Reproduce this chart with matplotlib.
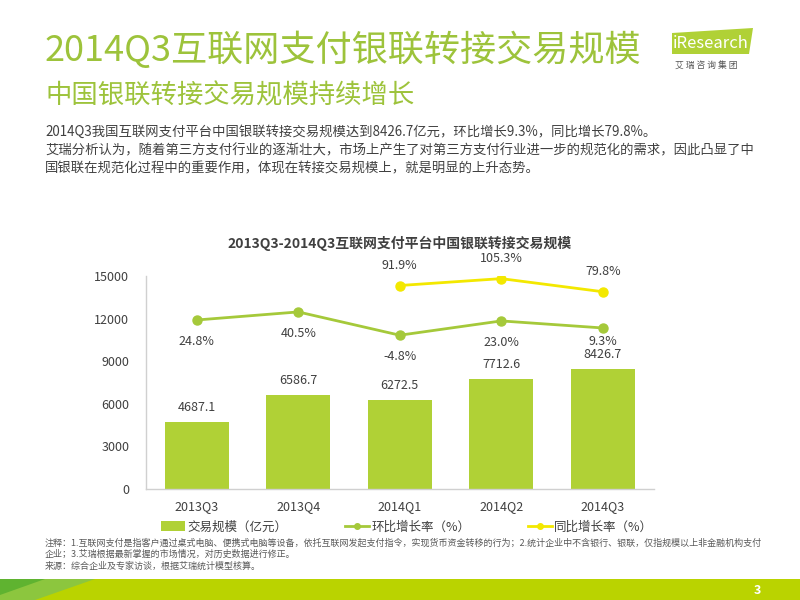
import matplotlib
matplotlib.use("Agg")
import matplotlib.pyplot as plt
from matplotlib.patches import Polygon, Rectangle
from matplotlib.lines import Line2D


plt.rcParams["font.family"] = ["Noto Sans CJK SC", "DejaVu Sans"]
plt.rcParams["axes.unicode_minus"] = False

QUARTERS = ["2013Q3", "2013Q4", "2014Q1", "2014Q2", "2014Q3"]
VOLUME = [4687.1, 6586.7, 6272.5, 7712.6, 8426.7]
QOQ = [24.8, 40.5, -4.8, 23.0, 9.3]
YOY_QUARTERS = ["2014Q1", "2014Q2", "2014Q3"]
YOY = [91.9, 105.3, 79.8]
Y_TICKS = [0, 3000, 6000, 9000, 12000, 15000]

TITLE = "2014Q3互联网支付银联转接交易规模"
SUBTITLE = "中国银联转接交易规模持续增长"
BODY = [
    "2014Q3我国互联网支付平台中国银联转接交易规模达到8426.7亿元，环比增长9.3%，同比增长79.8%。",
    "艾瑞分析认为，随着第三方支付行业的逐渐壮大，市场上产生了对第三方支付行业进一步的规范化的需求，因此凸显了中",
    "国银联在规范化过程中的重要作用，体现在转接交易规模上，就是明显的上升态势。",
]
CHART_TITLE = "2013Q3-2014Q3互联网支付平台中国银联转接交易规模"
NOTES = [
    "注释：1.互联网支付是指客户通过桌式电脑、便携式电脑等设备，依托互联网发起支付指令，实现货币资金转移的行为；2.统计企业中不含银行、银联，仅指规模以上非金融机构支付",
    "企业；3.艾瑞根据最新掌握的市场情况，对历史数据进行修正。",
    "来源：综合企业及专家访谈，根据艾瑞统计模型核算。",
]
LEGEND_LABELS = ["交易规模（亿元）", "环比增长率（%）", "同比增长率（%）"]

GREEN_TITLE = "#9dc33b"
BAR_GREEN = "#b0d136"
LINE_GREEN = "#a5c93a"
YELLOW = "#f3e800"
TEXT = "#404040"


def px(x, y):
    # pixel coords (top-left origin) -> figure fraction
    return x / 800, 1 - y / 600


fig = plt.figure(figsize=(8, 6), dpi=100)
fig.patch.set_facecolor("white")

# headings
fig.text(*px(45, 50), TITLE, fontsize=26, color=GREEN_TITLE, va="center", ha="left")
fig.text(*px(45, 96), SUBTITLE, fontsize=19, color=GREEN_TITLE, va="center", ha="left")
for i, line in enumerate(BODY):
    fig.text(*px(45, 132 + i * 18), line, fontsize=9.6, color=TEXT, va="center", ha="left")

# logo
logo = Polygon([px(672, 33), px(753, 28), px(749, 54), px(672, 54)], closed=True,
               transform=fig.transFigure, facecolor=BAR_GREEN, edgecolor="none")
fig.patches.append(logo)
fig.text(*px(673, 43), "iResearch", fontsize=12, color="white", va="center", ha="left")
fig.text(*px(675, 65), "艾 瑞 咨 询 集 团", fontsize=6.3, color="#555555", va="center", ha="left")

# chart
ax = fig.add_axes([146 / 800, 1 - 489 / 600, 507.5 / 800, 213 / 600])
x = list(range(len(QUARTERS)))
ax.bar(x, VOLUME, width=0.63, color=BAR_GREEN, zorder=2)
ax.set_xlim(-0.5, len(QUARTERS) - 0.5)
ax.set_ylim(0, 15000)
ax.set_yticks(Y_TICKS)
ax.set_yticklabels([str(v) for v in Y_TICKS])
ax.set_xticks(x)
ax.set_xticklabels(QUARTERS)
ax.tick_params(axis="both", length=0, labelsize=9, colors=TEXT)
ax.tick_params(axis="y", pad=12)
ax.tick_params(axis="x", pad=8)
for side in ("top", "right"):
    ax.spines[side].set_visible(False)
for side in ("left", "bottom"):
    ax.spines[side].set_color("#d0d0d0")
    ax.spines[side].set_linewidth(1.0)
for xi, v in zip(x, VOLUME):
    ax.annotate(f"{v:.1f}", (xi, v), xytext=(0, 6), textcoords="offset points",
                ha="center", va="bottom", fontsize=9, color=TEXT)

ax2 = ax.twinx()
ax2.set_ylim(-304, 110.4)
ax2.axis("off")
ax2.plot(x, QOQ, color=LINE_GREEN, linewidth=2, marker="o", markersize=6.5, zorder=3)
# last label sits closer to its point so it clears the bar label below
qoq_offsets = [-11, -11, -11, -11, -5]
for xi, v, dy in zip(x, QOQ, qoq_offsets):
    ax2.annotate(f"{v:.1f}%", (xi, v), xytext=(0, dy), textcoords="offset points",
                 ha="center", va="top", fontsize=9, color=TEXT)
yoy_x = [QUARTERS.index(q) for q in YOY_QUARTERS]
ax2.plot(yoy_x, YOY, color=YELLOW, linewidth=2, marker="o", markersize=6.5, zorder=3)
for xi, v in zip(yoy_x, YOY):
    ax2.annotate(f"{v:.1f}%", (xi, v), xytext=(0, 10), textcoords="offset points",
                 ha="center", va="bottom", fontsize=9, color=TEXT)

fig.text(*px(400, 243), CHART_TITLE, fontsize=10, fontweight="bold", color=TEXT,
         ha="center", va="center")

handles = [
    Rectangle((0, 0), 1, 1, facecolor=BAR_GREEN, edgecolor="none"),
    Line2D([], [], color=LINE_GREEN, linewidth=2, marker="o", markersize=4),
    Line2D([], [], color=YELLOW, linewidth=2, marker="o", markersize=4),
]
fig.legend(handles, LEGEND_LABELS, loc="center left", bbox_to_anchor=px(150, 527),
           ncol=3, frameon=False, fontsize=9, handlelength=1.9, handleheight=0.8,
           handletextpad=0.2, columnspacing=4.6, labelcolor=TEXT)

# notes
for i, line in enumerate(NOTES):
    fig.text(*px(45, 543 + i * 11.5), line, fontsize=6.5, color="#595959", va="center", ha="left")

# bottom banner
banner = Rectangle(px(0, 600), 1, 21 / 600, transform=fig.transFigure,
                   facecolor="#bad300", edgecolor="none")
fig.patches.append(banner)
mid = Polygon([px(0, 579), px(95, 579), px(35, 600), px(0, 600)], closed=True,
              transform=fig.transFigure, facecolor="#8cc63e", edgecolor="none")
fig.patches.append(mid)
dark = Polygon([px(0, 579), px(45, 579), px(0, 595)], closed=True,
               transform=fig.transFigure, facecolor="#5fb330", edgecolor="none")
fig.patches.append(dark)
fig.text(*px(757, 590), "3", fontsize=9, fontweight="bold", color="white", ha="center", va="center")

fig.savefig("out.png", dpi=100)
